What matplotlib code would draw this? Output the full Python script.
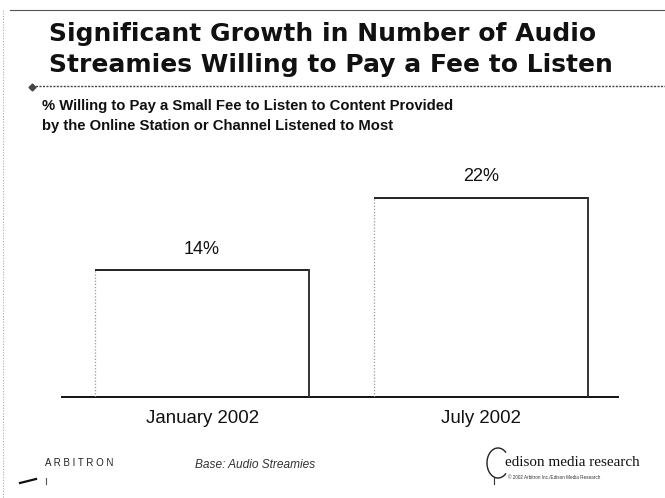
import matplotlib
matplotlib.use("Agg")
import matplotlib.pyplot as plt
from matplotlib.lines import Line2D
from matplotlib.patches import Arc

categories = ["January 2002", "July 2002"]
values = [14, 22]
value_labels = ["14%", "22%"]

W, H = 665, 498
fig = plt.figure(figsize=(W / 100, H / 100), dpi=100)
fig.patch.set_facecolor("white")

def fx(px):
    return px / W

def fy(py):
    return 1 - py / H

# frame lines
fig.add_artist(Line2D([fx(10), fx(665)], [fy(10), fy(10)], color="#555555", lw=0.8, transform=fig.transFigure))
fig.add_artist(Line2D([fx(3), fx(3)], [fy(10), fy(498)], color="#aaaaaa", lw=0.8, ls=(0, (1, 1.5)), transform=fig.transFigure))

# title
fig.text(fx(49), fy(34), "Significant Growth in Number of Audio", fontsize=18, fontweight="bold",
         family="DejaVu Sans", va="center", ha="left", color="#111111")
fig.text(fx(49), fy(65), "Streamies Willing to Pay a Fee to Listen", fontsize=18, fontweight="bold",
         family="DejaVu Sans", va="center", ha="left", color="#111111")
fig.add_artist(Line2D([fx(32), fx(665)], [fy(86), fy(86)], color="#444444", lw=1.0, ls=(0, (1.5, 1)), transform=fig.transFigure))
fig.add_artist(Line2D([fx(32)], [fy(87)], marker="D", markersize=3.5, color="#444444", transform=fig.transFigure))

# subtitle
fig.text(fx(42), fy(106), "% Willing to Pay a Small Fee to Listen to Content Provided", fontsize=10.7,
         fontweight="bold", family="Liberation Sans", va="center", ha="left", color="#111111")
fig.text(fx(42), fy(126), "by the Online Station or Channel Listened to Most", fontsize=10.7,
         fontweight="bold", family="Liberation Sans", va="center", ha="left", color="#111111")

# axes
ax = fig.add_axes([fx(62), 1 - 397 / H, (618 - 62) / W, 257 / H])
x = list(range(len(categories)))
width = 0.767
bars = ax.bar(x, values, width=width, color="white", edgecolor="none", zorder=2)
for b in bars:
    x0, x1 = b.get_x(), b.get_x() + b.get_width()
    h = b.get_height()
    ax.plot([x0, x1], [h, h], color="#222222", lw=1.4, zorder=3, solid_capstyle="butt")
    ax.plot([x1, x1], [0, h], color="#333333", lw=1.4, zorder=3)
    ax.plot([x0, x0], [0, h], color="#999999", lw=0.9, ls=(0, (1, 1.5)), zorder=3)
for xi, v, lab in zip(x, values, value_labels):
    ax.text(xi, v + 1.4, lab, ha="center", va="bottom", fontsize=13, family="Liberation Sans", color="#111111")
ax.set_xlim(-0.502, 1.491)
ax.set_ylim(0, 28.4)
for s in ["top", "right", "left"]:
    ax.spines[s].set_visible(False)
ax.spines["bottom"].set_color("#111111")
ax.spines["bottom"].set_linewidth(1.4)
ax.set_yticks([])
ax.set_xticks(x)
ax.set_xticklabels(categories, fontsize=13.4, family="Liberation Sans", color="#111111")
ax.tick_params(axis="x", length=0, pad=9)
ax.patch.set_alpha(0)

# footer
fig.text(fx(45), fy(463), "A R B I T R O N", fontsize=7, family="Liberation Sans", va="center", ha="left", color="#222222")
fig.add_artist(Line2D([fx(20), fx(36)], [fy(483), fy(479)], color="#111111", lw=1.6, transform=fig.transFigure))
fig.add_artist(Line2D([fx(46), fx(46)], [fy(478), fy(484)], color="#555555", lw=0.8, transform=fig.transFigure))
fig.text(fx(195), fy(465), "Base: Audio Streamies", fontsize=8.6, style="italic", family="Liberation Sans",
         va="center", ha="left", color="#333333")
fig.text(fx(505), fy(462), "edison media research", fontsize=10.9, family="Liberation Serif",
         va="center", ha="left", color="#111111")
fig.text(fx(508), fy(477), "© 2002 Arbitron Inc./Edison Media Research", fontsize=3.3, family="Liberation Sans",
         va="center", ha="left", color="#333333")
fig.add_artist(Arc((fx(498), fy(463)), fx(22), 30 / H, theta1=60, theta2=300, color="#222222", lw=1.0,
                   transform=fig.transFigure))
fig.add_artist(Line2D([fx(494), fx(494)], [fy(477), fy(484)], color="#333333", lw=0.8, transform=fig.transFigure))

fig.savefig("out.png", dpi=100, facecolor="white")
